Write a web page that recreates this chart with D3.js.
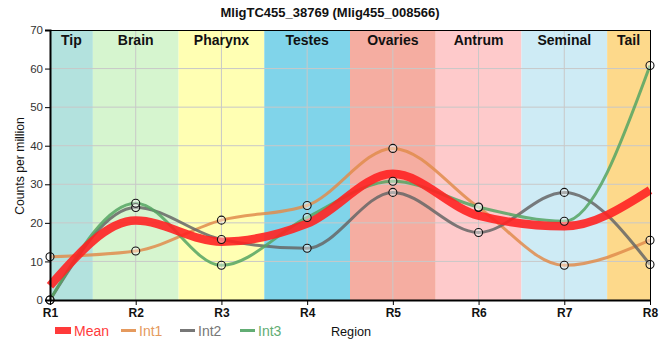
<!DOCTYPE html>
<html><head><meta charset="utf-8">
<script src="https://cdn.jsdelivr.net/npm/d3@7"></script>
<style>body{margin:0;background:#fff}svg{display:block;font-family:"Liberation Sans",Arial,sans-serif}</style>
</head><body><svg id="c" width="660" height="360"></svg>
<script>
const regions = ["R1","R2","R3","R4","R5","R6","R7","R8"];
const tissues = ["Tip","Brain","Pharynx","Testes","Ovaries","Antrum","Seminal","Tail"];
const tissueColors = ["#b3e2de","#d6f5cf","#ffffb3","#80d4ea","#f5ada1","#fecacb","#ceebf5","#fdd98b"];
const yTicks = [0,10,20,30,40,50,60,70];
const int1 = [11.2,12.7,20.7,24.5,39.3,24.0,9.0,15.5];
const int2 = [0,24.0,15.7,13.4,27.9,17.5,27.9,9.2];
const int3 = [0,25.1,9.0,21.4,30.8,24.1,20.4,60.8];
const mean = [3.7,20.6,15.1,19.8,32.7,21.9,19.1,28.5];
const seriesNames = ["Mean","Int1","Int2","Int3"];
const seriesColors = ["#ff2222","#e08c4c","#666666","#55a463"];
const legendColors = ["#ff3a3a","#e59a5e","#777777","#62ad74"];

const FONT = "Liberation Sans, Arial, sans-serif";
const svg = d3.select("#c");
const L=50,R=650,T=30,B=300;
const x = d3.scalePoint().domain(regions).range([L,R]);
const y = d3.scaleLinear().domain([0,70]).range([B,T]);
const step = x.step();
const bandA = i => Math.max(L,x(regions[i])-step/2);
const bandB = i => Math.min(R,x(regions[i])+step/2);

// bands
svg.append("g").selectAll("rect").data(tissues).join("rect")
  .attr("x",(d,i)=>bandA(i)).attr("width",(d,i)=>bandB(i)-bandA(i))
  .attr("y",T).attr("height",B-T)
  .attr("fill",(d,i)=>tissueColors[i]);

// grid
svg.append("g").selectAll("line").data(yTicks.slice(1,-1)).join("line")
  .attr("x1",L).attr("x2",R).attr("y1",d=>y(d)).attr("y2",d=>y(d))
  .attr("stroke","#c8c8c8").attr("stroke-width",1);
svg.append("g").selectAll("line").data(regions.slice(1,-1)).join("line")
  .attr("y1",T).attr("y2",B).attr("x1",d=>x(d)).attr("x2",d=>x(d))
  .attr("stroke","#c8c8c8").attr("stroke-width",1);

// band labels
svg.append("g").selectAll("text").data(tissues).join("text")
  .attr("x",(d,i)=>(bandA(i)+bandB(i))/2)
  .attr("y",T+15).attr("text-anchor","middle")
  .attr("font-size",14).attr("font-weight","bold").attr("fill","#111").text(d=>d);

// lines
const line = d3.line().x((d,i)=>x(regions[i])).y(d=>y(d)).curve(d3.curveMonotoneX);
const data = [mean,int1,int2,int3];
const widths = [8.5,3,3,3];
[1,2,3,0].forEach(k=>{
  svg.append("path").attr("d",line(data[k])).attr("fill","none")
    .attr("stroke",seriesColors[k]).attr("stroke-width",widths[k])
    .attr("stroke-opacity",k===0?0.9:0.85).attr("stroke-linecap","butt");
});
// markers
[1,2,3].forEach(k=>{
  svg.append("g").selectAll("circle").data(data[k]).join("circle")
    .attr("cx",(d,i)=>x(regions[i])).attr("cy",d=>y(d)).attr("r",4)
    .attr("fill","rgba(255,255,255,0.4)").attr("stroke","#111").attr("stroke-width",1.1);
});

// frame
svg.append("line").attr("x1",L).attr("x2",R).attr("y1",T+0.5).attr("y2",T+0.5).attr("stroke","#000").attr("stroke-width",1);
svg.append("line").attr("x1",R+0.5).attr("x2",R+0.5).attr("y1",T).attr("y2",B).attr("stroke","#000").attr("stroke-width",1);

// axes
const ya = svg.append("g").attr("transform",`translate(${L},0)`)
  .call(d3.axisLeft(y).tickValues(yTicks).tickSize(5).tickPadding(2).tickFormat(d3.format("d")));
ya.select(".domain").attr("stroke","#000").attr("stroke-width",2);
ya.selectAll(".tick text").attr("font-size",11.5).attr("fill","#333").attr("font-family",FONT);
const xa = svg.append("g").attr("transform",`translate(0,${B})`)
  .call(d3.axisBottom(x).tickSize(5).tickSizeOuter(0));
xa.select(".domain").attr("stroke","#000").attr("stroke-width",2);
xa.selectAll(".tick text").attr("font-size",12).attr("font-weight","bold").attr("fill","#111").attr("font-family",FONT);

// title
svg.append("text").attr("x",330).attr("y",17).attr("text-anchor","middle")
  .attr("font-size",13).attr("font-weight","bold").attr("fill","#111").text("MligTC455_38769 (Mlig455_008566)");
// y label
svg.append("text").attr("transform","translate(23.5,166) rotate(-90)").attr("text-anchor","middle")
  .attr("font-size",12.2).attr("fill","#111").text("Counts per million");
// x label
svg.append("text").attr("x",351).attr("y",335.5).attr("text-anchor","middle")
  .attr("font-size",12.7).attr("fill","#111").text("Region");

// legend
const lg = svg.append("g");
const lx = [55,121,180,240];
seriesNames.forEach((n,k)=>{
  if(k===0) lg.append("rect").attr("x",lx[k]).attr("y",327).attr("width",16).attr("height",7).attr("fill",legendColors[k]);
  else lg.append("line").attr("x1",lx[k]).attr("x2",lx[k]+15).attr("y1",330.5).attr("y2",330.5).attr("stroke",legendColors[k]).attr("stroke-width",3);
  lg.append("text").attr("x",lx[k]+(k===0?19:18)).attr("y",335.5).attr("font-size",14).attr("fill",legendColors[k]).text(n);
});
</script></body></html>
